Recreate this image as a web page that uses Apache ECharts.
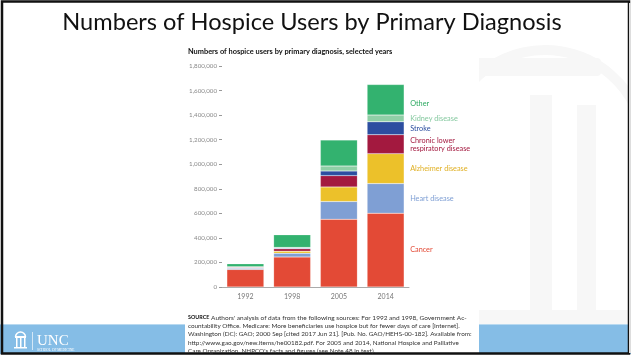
<!DOCTYPE html>
<html>
<head>
<meta charset="utf-8">
<script src="https://cdn.jsdelivr.net/npm/echarts@6/dist/echarts.min.js"></script>
<style>
html,body{margin:0;padding:0;background:#fff;}
#c{width:631px;height:356px;}
</style>
</head>
<body>
<div id="c"></div>
<script>
// ---- data ----
var years = ['1992', '1998', '2005', '2014'];
var seriesNames = ['Cancer', 'Heart disease', 'Alzheimer disease', 'Chronic lower respiratory disease', 'Stroke', 'Kidney disease', 'Other'];
var seriesLabels = ['Cancer', 'Heart disease', 'Alzheimer disease', 'Chronic lower\nrespiratory disease', 'Stroke', 'Kidney disease', 'Other'];
var cancer     = [143000, 244000, 552000, 601000];
var heart      = [10000, 31000, 144000, 241000];
var alzheimer  = [2000, 17000, 119000, 244000];
var clrd       = [5000, 19000, 92000, 154000];
var stroke     = [3000, 7000, 38000, 105000];
var kidney     = [2000, 4000, 40000, 55000];
var other      = [24000, 103000, 212000, 249000];
var yTicks = [0, 200000, 400000, 600000, 800000, 1000000, 1200000, 1400000, 1600000, 1800000];
var sourceLines = [
  "Authors' analysis of data from the following sources: For 1992 and 1998, Government Ac-",
  "countability Office. Medicare: More beneficiaries use hospice but for fewer days of care [Internet].",
  "Washington (DC): GAO; 2000 Sep [cited 2017 Jun 21]. [Pub. No. GAO/HEHS-00-182]. Available from:",
  "http://www.gao.gov/new.items/he00182.pdf. For 2005 and 2014, National Hospice and Palliative",
  "Care Organization. NHPCO's facts and figures (see Note 48 in text)."
];

var values = [cancer, heart, alzheimer, clrd, stroke, kidney, other];
var colors = ['#e34a36', '#7f9fd4', '#ecc12a', '#a3193f', '#2c4ea0', '#8fcfa6', '#33b26f'];
var labelColors = ['#e34a36', '#7f9fd4', '#e0b024', '#a3193f', '#2c4ea0', '#86c9a0', '#2eaa62'];

var chart = echarts.init(document.getElementById('c'), null, {renderer: 'canvas'});

var series = values.map(function (arr, i) {
  return {
    name: seriesNames[i],
    type: 'bar',
    stack: 'total',
    barWidth: 37,
    z: 12,
    itemStyle: {color: colors[i], borderColor: 'rgba(255,255,255,0.35)', borderWidth: 0.5},
    data: arr.map(function (v, j) {
      var d = {value: v};
      if (j === arr.length - 1) {
        d.label = {
          show: true, position: 'right', distance: 6,
          formatter: seriesLabels[i],
          color: labelColors[i], fontSize: 7.3, lineHeight: 8,
          fontFamily: 'Lato', align: 'left',
          offset: i === 6 ? [0, 4] : [0, 0]
        };
      }
      return d;
    })
  };
});

var wm = '#f7f7f7';
var graphic = [
  // bottom band
  {type: 'rect', shape: {x: 0, y: 324, width: 631, height: 30}, style: {fill: '#85bde6'}, z: 0},
  {type: 'rect', shape: {x: 0, y: 324, width: 631, height: 1}, style: {fill: '#b8d9f0'}, z: 0},
  // watermark (old well)
  {type: 'rect', shape: {x: 476, y: 58, width: 125, height: 18, r: 4}, style: {fill: wm}, z: 0},
  {type: 'arc', shape: {cx: 545, cy: 150, r: 100, startAngle: Math.PI * 1.05, endAngle: Math.PI * 1.9}, style: {stroke: wm, lineWidth: 10, fill: 'none'}, z: 0},
  {type: 'rect', shape: {x: 530, y: 95, width: 22, height: 215}, style: {fill: wm}, z: 0},
  {type: 'rect', shape: {x: 577, y: 105, width: 19, height: 205}, style: {fill: wm}, z: 0},
  {type: 'rect', shape: {x: 478, y: 310, width: 153, height: 14}, style: {fill: wm}, z: 0},
  // chart white panel
  {type: 'rect', shape: {x: 185, y: 44, width: 294, height: 312}, style: {fill: '#ffffff'}, z: 1},
  // border
  {type: 'rect', shape: {x: 2, y: 1.5, width: 627, height: 352}, style: {fill: 'none', stroke: '#111', lineWidth: 2.5}, z: 5},
  {type: 'rect', shape: {x: 629, y: 3, width: 2, height: 350}, style: {fill: '#ddd'}, z: 5},
  // title
  {type: 'text', x: 312, y: 22, style: {text: 'Numbers of Hospice Users by Primary Diagnosis', font: '23.6px Lato', fill: '#111', textAlign: 'center', textVerticalAlign: 'middle'}, z: 5},
  // chart subtitle
  {type: 'text', x: 188, y: 52, style: {text: 'Numbers of hospice users by primary diagnosis, selected years', font: 'bold 7.4px Lato', fill: '#111', textVerticalAlign: 'middle'}, z: 5},
  // UNC logo
  {type: 'rect', shape: {x: 15, y: 336, width: 11, height: 2}, style: {fill: '#fff'}, z: 5},
  {type: 'arc', shape: {cx: 20.5, cy: 337, r: 5, startAngle: Math.PI, endAngle: 2 * Math.PI}, style: {stroke: '#fff', lineWidth: 1.5, fill: 'none'}, z: 5},
  {type: 'rect', shape: {x: 16, y: 338, width: 1.5, height: 9}, style: {fill: '#fff'}, z: 5},
  {type: 'rect', shape: {x: 20, y: 338, width: 1.5, height: 9}, style: {fill: '#fff'}, z: 5},
  {type: 'rect', shape: {x: 24, y: 338, width: 1.5, height: 9}, style: {fill: '#fff'}, z: 5},
  {type: 'rect', shape: {x: 14, y: 347, width: 13, height: 1.5}, style: {fill: '#fff'}, z: 5},
  {type: 'rect', shape: {x: 32, y: 332, width: 0.8, height: 18}, style: {fill: '#e8f2fa'}, z: 5},
  {type: 'text', x: 37, y: 341, style: {text: 'UNC', font: '15px "Liberation Serif"', fill: '#fff', textVerticalAlign: 'middle'}, z: 5},
  {type: 'text', x: 37, y: 350, style: {text: 'SCHOOL OF MEDICINE', font: '3.5px "Liberation Serif"', fill: '#fff', textVerticalAlign: 'middle'}, z: 5}
];

// source note
sourceLines.forEach(function (line, i) {
  if (i === 0) {
    graphic.push({type: 'text', x: 188, y: 317.5 + i * 8.4, z: 5,
      style: {text: '{b|SOURCE} ' + line, font: '6.5px Lato', fill: '#333', textVerticalAlign: 'middle',
        rich: {b: {fontSize: 5.4, fontWeight: 'bold', fill: '#111', fontFamily: 'Lato'}}}});
  } else {
    graphic.push({type: 'text', x: 188, y: 317.5 + i * 8.4, z: 5,
      style: {text: line, font: '6.35px Lato', fill: '#333', textVerticalAlign: 'middle'}});
  }
});

var option = {
  backgroundColor: '#ffffff',
  animation: false,
  graphic: graphic,
  grid: {left: 222, top: 66, width: 187, height: 221, containLabel: false},
  xAxis: {
    type: 'category',
    z: 10,
    data: years,
    axisLine: {show: true, lineStyle: {color: '#aaa', width: 1}},
    axisTick: {show: false},
    axisLabel: {color: '#777', fontSize: 7, fontFamily: 'Lato', margin: 6}
  },
  yAxis: {
    type: 'value',
    z: 10,
    min: yTicks[0],
    max: yTicks[yTicks.length - 1],
    interval: yTicks[1] - yTicks[0],
    splitLine: {show: false},
    axisLine: {show: false},
    axisTick: {show: true, length: 3, lineStyle: {color: '#999'}},
    axisLabel: {
      color: '#888', fontSize: 6.2, fontFamily: 'Lato', margin: 5,
      formatter: function (v) { return v.toLocaleString('en-US'); }
    }
  },
  series: series
};
chart.setOption(option);
</script>
</body>
</html>
